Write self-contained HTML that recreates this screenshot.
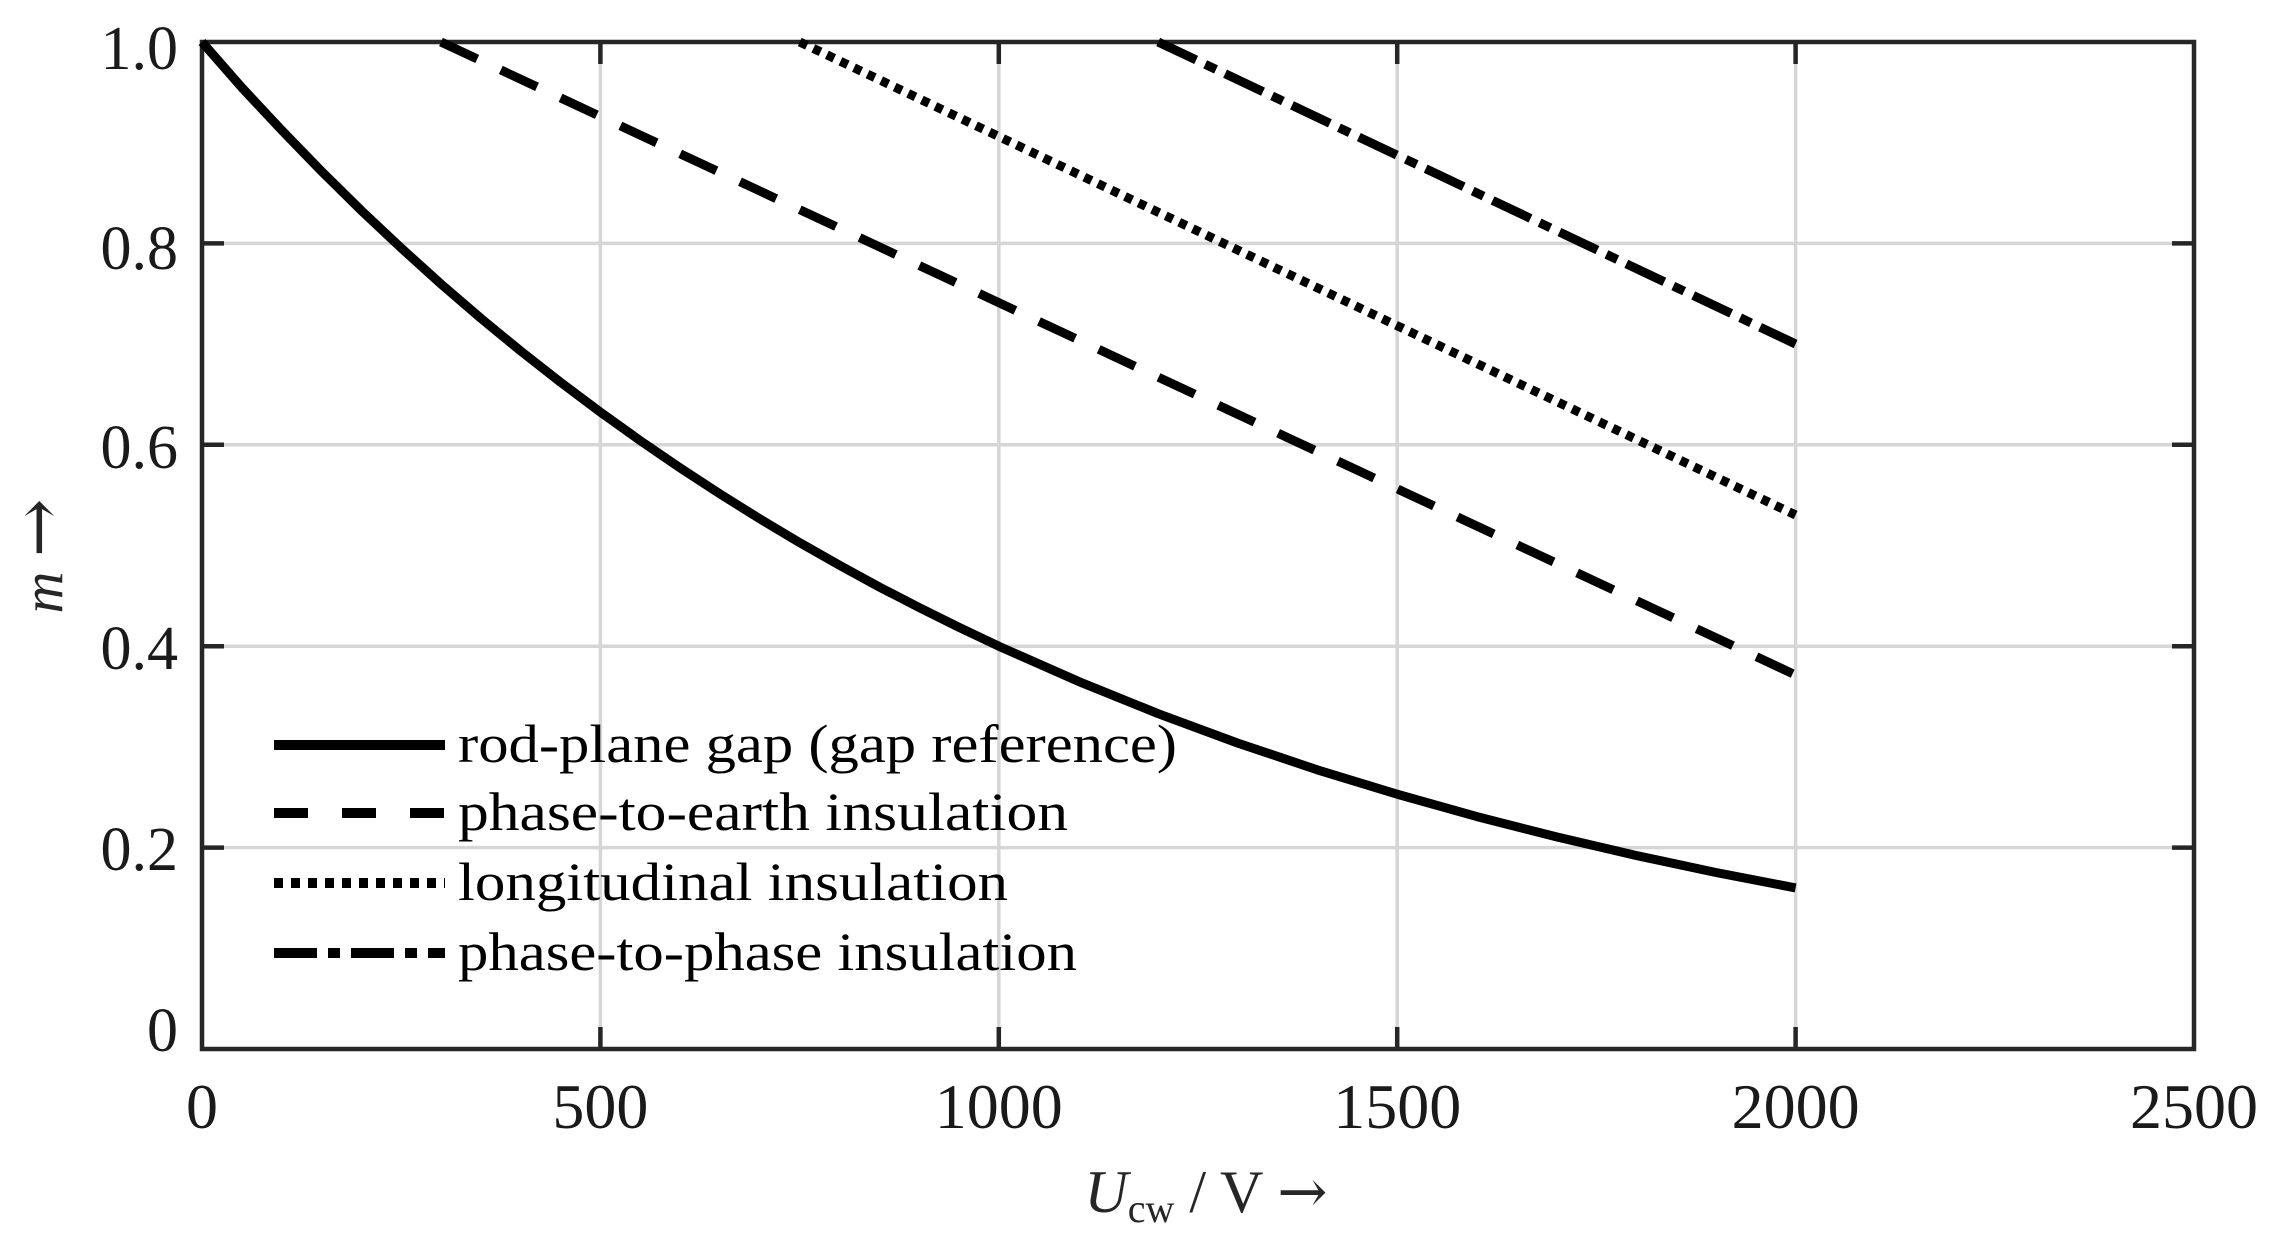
<!DOCTYPE html>
<html><head><meta charset="utf-8"><style>html,body{margin:0;padding:0;background:#fff}svg{display:block}</style></head>
<body>
<svg width="2281" height="1248" viewBox="0 0 2281 1248" xmlns="http://www.w3.org/2000/svg" font-family="'Liberation Serif', serif">
<rect width="2281" height="1248" fill="#fff"/>
<g stroke="#d6d6d6" stroke-width="3.5">
<line x1="600.4" y1="42" x2="600.4" y2="1049"/>
<line x1="998.8" y1="42" x2="998.8" y2="1049"/>
<line x1="1397.2" y1="42" x2="1397.2" y2="1049"/>
<line x1="1795.6" y1="42" x2="1795.6" y2="1049"/>
<line x1="202" y1="847.6" x2="2194" y2="847.6"/>
<line x1="202" y1="646.2" x2="2194" y2="646.2"/>
<line x1="202" y1="444.8" x2="2194" y2="444.8"/>
<line x1="202" y1="243.4" x2="2194" y2="243.4"/>
</g>
<g stroke="#262626" stroke-width="4.5">
<path d="M600.4 1049v-22M998.8 1049v-22M1397.2 1049v-22M1795.6 1049v-22M600.4 42v22M998.8 42v22M1397.2 42v22M1795.6 42v22"/>
<path d="M202 847.6h22M202 646.2h22M202 444.8h22M202 243.4h22M2194 847.6h-22M2194 646.2h-22M2194 444.8h-22M2194 243.4h-22"/>
<rect x="202" y="42" width="1992" height="1007" fill="none"/>
</g>
<g fill="none" stroke="#000" stroke-width="9">
<polyline stroke-linejoin="round" points="202,42 241.8,87.5 281.7,130.2 321.5,171.2 361.4,210.6 401.2,248 441,284 480.9,318.3 520.7,351 560.6,382.3 600.4,412.1 640.2,440.6 680.1,467.9 719.9,493.9 759.8,518.8 799.6,542.6 839.4,565.2 879.3,587 919.1,607.5 959,627.3 998.8,646.2 1078.5,681.4 1158.2,713.7 1237.8,743.1 1317.5,769.9 1397.2,794.2 1476.9,816.6 1556.6,836.9 1636.2,855.5 1715.9,872.5 1795.6,887.9"/>
<line x1="441" y1="42" x2="1795.6" y2="675" stroke-dasharray="40 26"/>
<line x1="799.8" y1="42" x2="1795.6" y2="515" stroke-dasharray="8 7"/>
<line x1="1158.2" y1="42" x2="1795.6" y2="344" stroke-dasharray="42 10 12 10"/>
</g>
<g font-size="62" fill="#1a1a1a" text-anchor="end">
<text x="178" y="69">1.0</text>
<text x="178" y="269">0.8</text>
<text x="178" y="468">0.6</text>
<text x="178" y="669">0.4</text>
<text x="178" y="870">0.2</text>
<text x="178" y="1051">0</text>
</g>
<g font-size="64" fill="#1a1a1a" text-anchor="middle">
<text x="202" y="1128">0</text>
<text x="600.4" y="1128">500</text>
<text x="998.8" y="1128">1000</text>
<text x="1397.2" y="1128">1500</text>
<text x="1795.6" y="1128">2000</text>
<text x="2194" y="1128">2500</text>
</g>
<text transform="translate(62,556) rotate(-90)" font-size="58" fill="#262626" text-anchor="middle"><tspan font-style="italic">m</tspan> <tspan font-size="70" font-family="'DejaVu Serif', serif">→</tspan></text>
<text x="1206" y="1212" font-size="60" fill="#262626" text-anchor="middle"><tspan font-style="italic">U</tspan><tspan font-size="40" dy="10">cw</tspan><tspan dy="-10">  /  V </tspan><tspan font-size="60" font-family="'DejaVu Serif', serif">→</tspan></text>
<g fill="none" stroke="#000" stroke-width="10">
<line x1="274" y1="745" x2="445" y2="745"/>
<line x1="274" y1="813" x2="445" y2="813" stroke-dasharray="34 34"/>
<line x1="274" y1="883" x2="445" y2="883" stroke-dasharray="9 8"/>
<line x1="274" y1="953" x2="445" y2="953" stroke-dasharray="43 11 12 11"/>
</g>
<g font-size="54" fill="#000">
<text x="458" y="762" textLength="719" lengthAdjust="spacingAndGlyphs">rod-plane gap (gap reference)</text>
<text x="458" y="830" textLength="610" lengthAdjust="spacingAndGlyphs">phase-to-earth insulation</text>
<text x="458" y="900" textLength="550" lengthAdjust="spacingAndGlyphs">longitudinal insulation</text>
<text x="458" y="970" textLength="619" lengthAdjust="spacingAndGlyphs">phase-to-phase insulation</text>
</g>
</svg>
</body></html>
